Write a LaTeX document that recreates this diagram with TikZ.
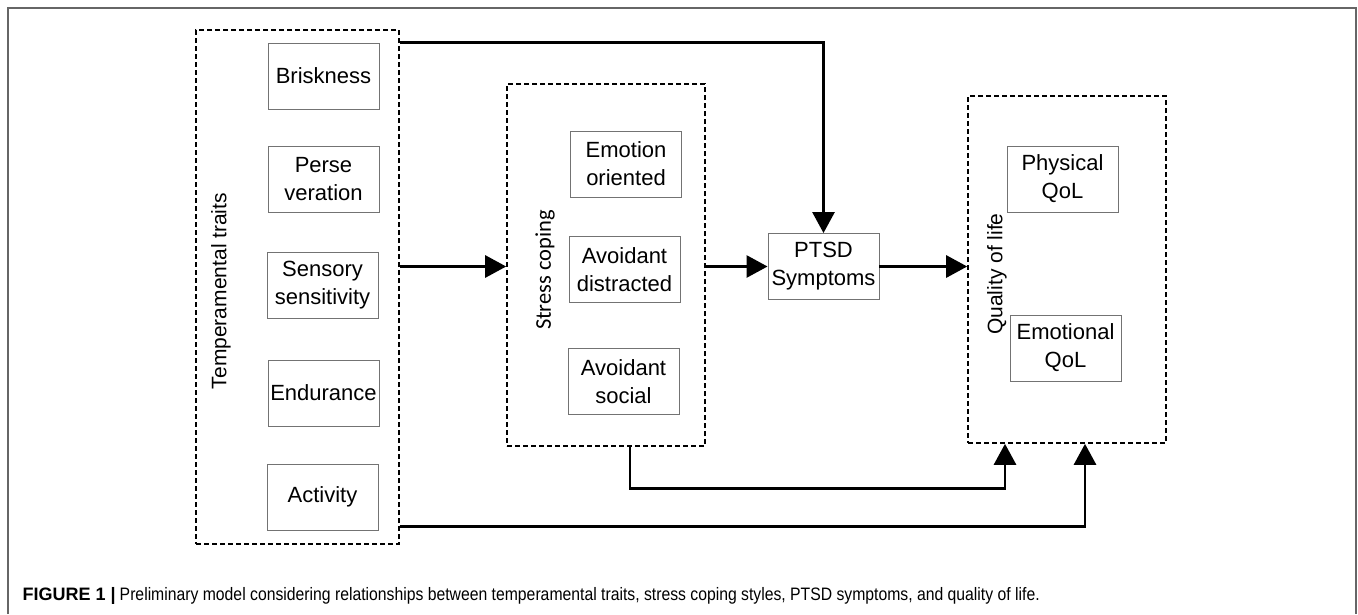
\documentclass[tikz,border=0pt]{standalone}
\usepackage{fontspec}
\setmainfont{Liberation Sans}
\newfontfamily\calib{Carlito}
\newfontfamily\capfont[FakeStretch=0.875]{Liberation Sans}
\usetikzlibrary{arrows.meta}
\tikzset{
  inner/.style={draw=black!55, line width=0.9pt, minimum width=111pt, minimum height=66pt, inner sep=0pt, align=center, font=\fontsize{22}{28}\selectfont},
  group/.style={draw=black, line width=1.6pt, dash pattern=on 5pt off 3pt, inner sep=0pt},
  grouplabel/.style={rotate=90, inner sep=0pt, font=\fontsize{21}{25}\selectfont},
  arr/.style={line width=2.8pt, -{Triangle[length=21pt,width=22pt]}},
}
\begin{document}
\begin{tikzpicture}[x=1pt,y=-1pt]
\useasboundingbox (0,0) rectangle (1358,614);
\draw[draw=black!60, line width=1.5pt] (8,614) -- (8,8) -- (1356,8) -- (1356,614);

% group boxes
\node[group, minimum width=203pt, minimum height=514pt] (temp) at (297.5,287) {};
\node[group, minimum width=198pt, minimum height=362pt] (stress) at (606,265) {};
\node[group, minimum width=198pt, minimum height=347pt] (qol) at (1067,269.5) {};

\node[grouplabel] (templ) at (221,291) {Temperamental traits};
\node[grouplabel, font=\calib\fontsize{22.5}{26}\selectfont] (stressl) at (545,270) {Stress coping};
\node[grouplabel] (qoll) at (997,274) {Quality of life};

% inner boxes
\node[inner] (brisk) at (323.5,76) {Briskness};
\node[inner] (perse) at (323.5,179) {Perse\\veration};
\node[inner] (sens) at (322.5,285) {Sensory\\sensitivity};
\node[inner] (endu) at (323.5,393) {Endurance};
\node[inner] (act) at (322.5,497) {Activity};

\node[inner] (emo) at (626,164) {Emotion\\oriented};
\node[inner] (dist) at (624.5,269.5) {Avoidant\\distracted};
\node[inner] (soc) at (623.5,381.5) {Avoidant\\social};

\node[inner] (ptsd) at (823.5,266.5) {PTSD\\Symptoms};

\node[inner] (phys) at (1062.5,179) {Physical\\QoL};
\node[inner] (emql) at (1065.5,348) {Emotional\\QoL};

% connectors
\draw[arr] (temp.east |- brisk.north) -| (ptsd.north);
\draw[arr] (temp.east |- ptsd) -- (stress.west |- ptsd);
\draw[arr] (stress.east |- ptsd) -- (ptsd.west);
\draw[arr] (ptsd.east) -- (qol.west |- ptsd);
\draw[arr] ([xshift=24pt]stress.south) -- ++(0,42) -| ([xshift=-62pt]qol.south);
\draw[arr] ([yshift=18pt]temp.south east) -| ([xshift=18pt]qol.south);

% caption
\node[anchor=base west, inner sep=0pt, font=\fontsize{18}{22}\selectfont] (cap) at (22.5,600) {\textbf{FIGURE 1 |}\hspace{4pt}{\capfont Preliminary model considering relationships between temperamental traits, stress coping styles, PTSD symptoms, and quality of life.}};
\end{tikzpicture}
\end{document}
